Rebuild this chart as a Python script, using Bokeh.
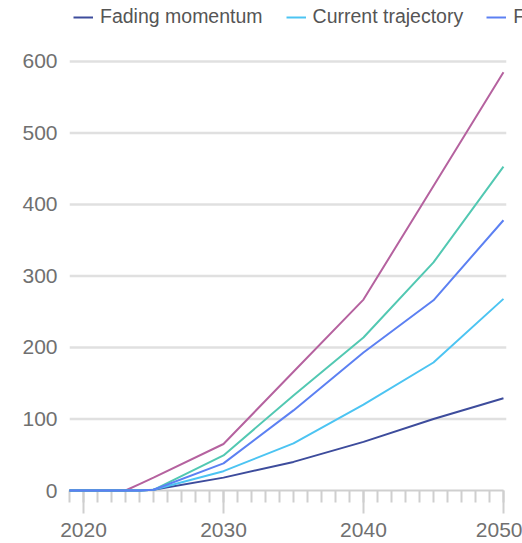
from bokeh.plotting import figure
from bokeh.models import FixedTicker, Legend, LegendItem, Range1d
from bokeh.embed import file_html
from bokeh.resources import INLINE

years = [2019, 2020, 2021, 2022, 2023, 2024, 2025, 2030, 2035, 2040, 2045, 2050]
fading = [0, 0, 0, 0, 0, 0, 1, 18, 40, 68, 100, 129]
current = [0, 0, 0, 0, 0, 0, 1, 27, 66, 120, 179, 268]
further = [0, 0, 0, 0, 0, 0, 1, 38, 112, 193, 266, 378]
achieved = [0, 0, 0, 0, 0, 0, 1, 49, 133, 214, 319, 453]
pathway = [0, 0, 0, 0, 0, 9, 18, 65, 166, 267, 426, 585]

series_names = ["Fading momentum", "Current trajectory", "Further acceleration",
                "Achieved commitments", "1.5°C pathway"]
series_values = [fading, current, further, achieved, pathway]
colors = ["#3d4c9c", "#4cc4f2", "#5c80f2", "#52c8b2", "#b5629f"]

y_ticks = [0, 100, 200, 300, 400, 500, 600]
x_ticks = [2020, 2030, 2040, 2050]
x_minor = list(range(2019, 2051))
x_start, x_end = 2019, 2050

FONT = "Liberation Sans"
TXT = "#707070"

p = figure(width=522, height=543, output_backend="svg", toolbar_location=None,
           x_range=Range1d(2019, 2051.36), y_range=Range1d(0, 685.3),
           min_border_left=69, min_border_right=0, min_border_top=0, min_border_bottom=53)
p.outline_line_color = None
p.background_fill_color = "white"
p.border_fill_color = "white"

# y axis: labels only
p.yaxis.ticker = FixedTicker(ticks=y_ticks)
p.yaxis.axis_line_color = None
p.yaxis.major_tick_line_color = None
p.yaxis.minor_tick_line_color = None
p.yaxis.major_label_standoff = 6
p.yaxis.major_label_text_font = FONT
p.yaxis.major_label_text_font_size = "21px"
p.yaxis.major_label_text_color = TXT

# x axis
p.xaxis.ticker = FixedTicker(ticks=x_ticks, minor_ticks=x_minor)
p.xaxis.bounds = (x_start, x_end)
p.xaxis.axis_line_color = "#cfcfcf"
p.xaxis.axis_line_width = 2
p.xaxis.major_tick_line_color = "#cfcfcf"
p.xaxis.major_tick_line_width = 2
p.xaxis.major_tick_in = 0
p.xaxis.major_tick_out = 23
p.xaxis.minor_tick_line_color = "#cfcfcf"
p.xaxis.minor_tick_line_width = 2
p.xaxis.minor_tick_in = 0
p.xaxis.minor_tick_out = 12
p.xaxis.major_label_standoff = 9
p.xaxis.major_label_text_font = FONT
p.xaxis.major_label_text_font_size = "21px"
p.xaxis.major_label_text_color = TXT

# horizontal grid lines limited to the data span
p.xgrid.grid_line_color = None
p.ygrid.grid_line_color = None
grid_vals = y_ticks[1:]
p.segment(x0=[x_start] * len(grid_vals), x1=[x_end + 0.2] * len(grid_vals),
          y0=grid_vals, y1=grid_vals, line_color="#e0e0e0", line_width=2.5,
          level="underlay")

draw_order = [4, 3, 0, 1, 2]
renderers = {}
for i in draw_order:
    renderers[i] = p.line(years, series_values[i], line_color=colors[i], line_width=2,
                          level="overlay")

items = [LegendItem(label=series_names[i], renderers=[renderers[i]]) for i in range(5)]
legend = Legend(items=items, orientation="horizontal", location=(4, 462),
                glyph_width=20, glyph_height=20, label_standoff=7, spacing=23,
                padding=0, margin=0, border_line_color=None, background_fill_alpha=0,
                label_text_font=FONT, label_text_font_size="19.5px", label_text_color="#555555",
                label_height=20)
p.add_layout(legend, "center")

open("out.html", "w").write(file_html(p, INLINE))
